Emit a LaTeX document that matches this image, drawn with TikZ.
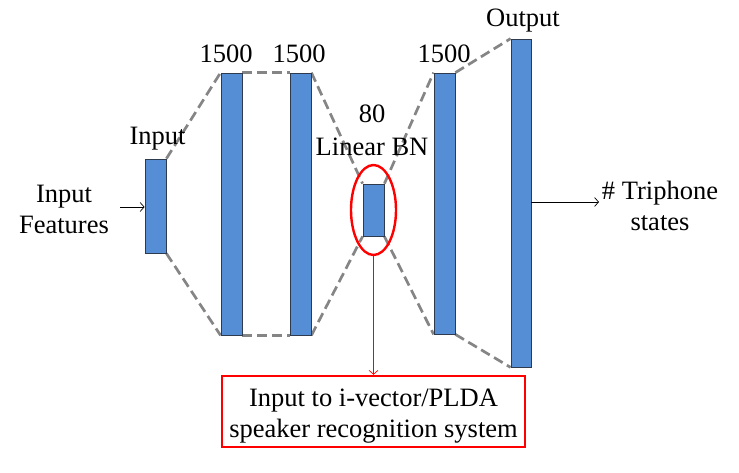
\documentclass[tikz,border=0pt]{standalone}
\usepackage{fontspec}
\setmainfont{Liberation Serif}
\usetikzlibrary{shapes.geometric,arrows.meta}
\definecolor{barblue}{HTML}{558ED5}
\definecolor{baredge}{HTML}{2E3B4E}
\definecolor{dgray}{HTML}{858585}
\definecolor{myred}{HTML}{FF0000}
\begin{document}
\begin{tikzpicture}[x=1pt,y=-1pt,
  layer/.style={draw=baredge,fill=barblue,line width=0.8pt,inner sep=0pt,minimum width=21pt},
  gdash/.style={draw=dgray,line width=2.7pt,dash pattern=on 10pt off 5pt},
  lbl/.style={font=\fontsize{26.5}{31}\selectfont,inner sep=0pt,anchor=base},
  mlbl/.style={font=\fontsize{26.5}{31}\selectfont,inner sep=0pt,align=center},
  thinarrow/.style={line width=0.7pt,-{Straight Barb[length=4pt,width=9pt]}}]
\useasboundingbox (0,0) rectangle (739,473);
% layers (positions)
\coordinate (cin) at (155.5,206);
\coordinate (ch1) at (231.5,204);
\coordinate (ch2) at (300.5,204);
\coordinate (cbn) at (373.5,210);
\coordinate (ch3) at (444.5,203.5);
\coordinate (cout) at (521,203);
% invisible copies to anchor the dashed connectors behind the layers
\path (cin) node[layer,minimum height=94pt,draw=none,fill=none] (in0) {}
      (ch1) node[layer,minimum height=262pt,draw=none,fill=none] (h10) {}
      (ch2) node[layer,minimum height=262pt,draw=none,fill=none] (h20) {}
      (cbn) node[layer,minimum height=52pt,draw=none,fill=none] (bn0) {}
      (ch3) node[layer,minimum height=261pt,draw=none,fill=none] (h30) {}
      (cout) node[layer,minimum width=20pt,minimum height=328pt,draw=none,fill=none] (out0) {};
\draw[gdash] (in0.north east) -- (h10.north west);
\draw[gdash] (in0.south east) -- (h10.south west);
\draw[gdash] (h10.north east) -- (h20.north west);
\draw[gdash] (h10.south east) -- (h20.south west);
\draw[gdash] (h20.north east) -- (bn0.north west);
\draw[gdash] (h20.south east) -- (bn0.south west);
\draw[gdash] (bn0.north east) -- (h30.north west);
\draw[gdash] (bn0.south east) -- (h30.south west);
\draw[gdash] (h30.north east) -- (out0.north west);
\draw[gdash] (h30.south east) -- (out0.south west);
% layers
\node[layer,minimum height=94pt] (in) at (cin) {};
\node[layer,minimum height=262pt] (h1) at (ch1) {};
\node[layer,minimum height=262pt] (h2) at (ch2) {};
\node[layer,minimum height=52pt] (bn) at (cbn) {};
\node[layer,minimum height=261pt] (h3) at (ch3) {};
\node[layer,minimum width=20pt,minimum height=328pt] (out) at (cout) {};
% ellipse around bottleneck
\node[ellipse,draw=myred,line width=2.4pt,minimum width=45pt,minimum height=90pt,inner sep=0pt] (ell) at (373.5,210) {};
% labels
\node[lbl] (tin) at (157.5,145) {Input};
\node[lbl] (t1) at (226,63) {1500};
\node[lbl] (t2) at (299,63) {1500};
\node[lbl] (t3) at (444,63) {1500};
\node[lbl] (tout) at (523,27) {Output};
\node[lbl] (t80) at (372,123) {80};
\node[lbl] (tbn) at (372,156) {Linear BN};
\node[mlbl] (feat) at (64,209) {Input\\Features};
\node[mlbl] (tri) at (660,206) {\# Triphone\\states};
\node[mlbl,draw=myred,line width=2.4pt,minimum width=303pt,minimum height=71pt,inner sep=0pt] (box) at (373.5,411.5) {\rule{0pt}{26pt}Input to i-vector/PLDA\\speaker recognition system};
% arrows
\coordinate (fa) at (120,207);
\draw[thinarrow] (fa) -- (in.west |- fa);
\coordinate (ta) at (599,202);
\draw[thinarrow] (out.east |- ta) -- (ta);
\draw[thinarrow,draw=myred,line width=0.7pt] (ell.south) -- (box.north);
\end{tikzpicture}
\end{document}
